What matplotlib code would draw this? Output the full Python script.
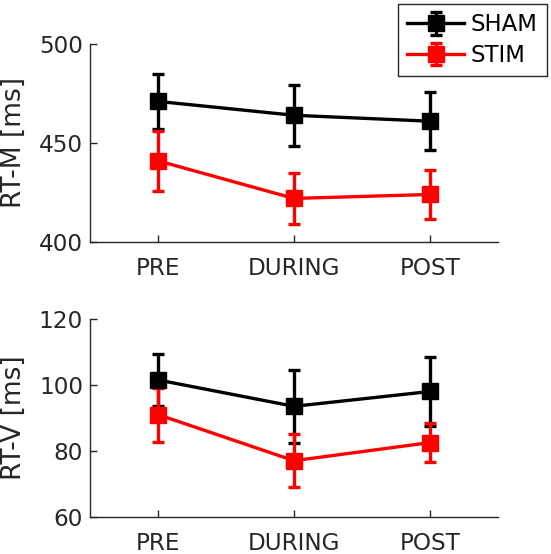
"""
Reaction times (RT-M, RT-V) across sessions, SHAM vs STIM.
"""

import matplotlib
import matplotlib.pyplot as plt
import numpy as np

matplotlib.use("Agg")

sessions = ["PRE", "DURING", "POST"]

# RT-M [ms]
rtm_sham = [471, 464, 461]
rtm_sham_err = [14, 15.5, 14.5]
rtm_stim = [441, 422, 424]
rtm_stim_err = [15, 13, 12.5]

# RT-V [ms]
rtv_sham = [101.5, 93.5, 98]
rtv_sham_err = [8, 11, 10.4]
rtv_stim = [91, 77, 82.5]
rtv_stim_err = [8.2, 8, 6]

GRAY = "#262626"
plt.rcParams["font.family"] = "DejaVu Sans"

fig = plt.figure(figsize=(5.51, 5.54), dpi=100)
ax_top = fig.add_axes([0.1633, 0.5632, 0.7405, 0.3574])
ax_bot = fig.add_axes([0.1633, 0.0673, 0.7405, 0.3569])

x = np.arange(1, len(sessions) + 1)
style = dict(marker="s", markersize=11, linewidth=2.4, elinewidth=2.4,
             capsize=4.3, capthick=2.4)


def draw(ax, sham, sham_err, stim, stim_err, ylim, yticks, ylabel):
    h_sham = ax.errorbar(x, sham, yerr=sham_err, color="black", label="SHAM", **style)
    h_stim = ax.errorbar(x, stim, yerr=stim_err, color="#ff0000", label="STIM", **style)
    ax.set_xlim(0.5, 3.5)
    ax.set_ylim(*ylim)
    ax.set_xticks(x)
    ax.set_xticklabels(sessions)
    ax.set_yticks(yticks)
    ax.set_ylabel(ylabel, fontsize=19, color=GRAY)
    ax.yaxis.set_label_coords(-0.155, 0.5)
    for side in ("top", "right"):
        ax.spines[side].set_visible(False)
    for side in ("left", "bottom"):
        ax.spines[side].set_color(GRAY)
        ax.spines[side].set_linewidth(1.0)
    ax.tick_params(direction="in", length=5, width=1.0, colors=GRAY,
                   labelsize=16.7)
    ax.tick_params(axis="x", pad=11)
    ax.tick_params(axis="y", pad=5)
    return h_sham, h_stim


handles = draw(ax_top, rtm_sham, rtm_sham_err, rtm_stim, rtm_stim_err,
               (400, 500), [400, 450, 500], "RT-M [ms]")
draw(ax_bot, rtv_sham, rtv_sham_err, rtv_stim, rtv_stim_err,
     (60, 120), [60, 80, 100, 120], "RT-V [ms]")

leg = ax_top.legend(handles, ["SHAM", "STIM"], loc="upper right",
                    bbox_to_anchor=(0.9927, 0.9928), bbox_transform=fig.transFigure,
                    borderaxespad=0, fontsize=16.4, fancybox=False, framealpha=1,
                    handlelength=2.5, handletextpad=0.3, borderpad=0.4,
                    labelspacing=0.35)
leg.get_frame().set_edgecolor(GRAY)
leg.get_frame().set_linewidth(1.0)

fig.savefig("out.png", dpi=100, facecolor="white")
